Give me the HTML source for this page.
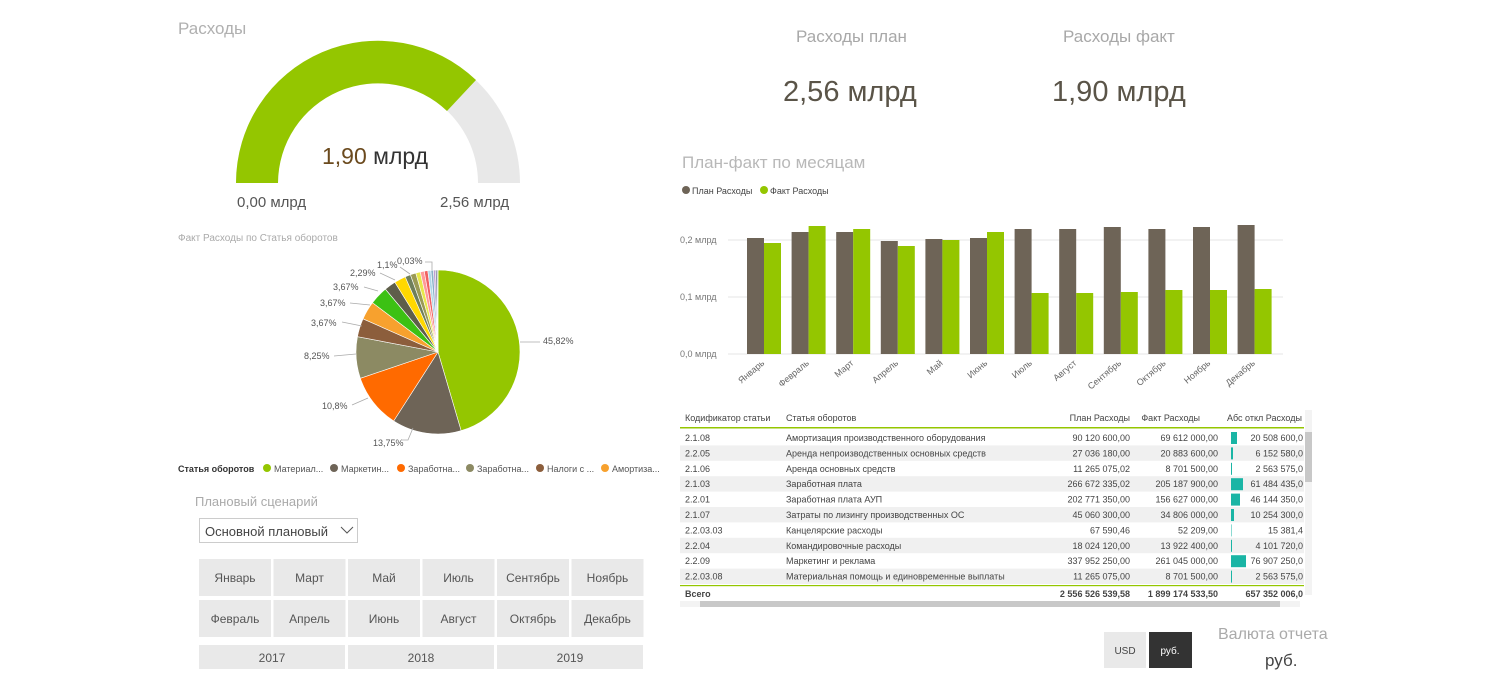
<!DOCTYPE html><html><head><meta charset="utf-8"><style>
body{margin:0;width:1501px;height:679px;background:#fff;overflow:hidden;font-family:"Liberation Sans","DejaVu Sans",sans-serif}
svg{position:absolute;left:0;top:0}
text{font-family:"Liberation Sans","DejaVu Sans",sans-serif}
</style></head><body>
<svg width="1501" height="679" viewBox="0 0 1501 679">
<!-- Titles -->
<text x="178" y="34" font-size="17" fill="#b0b0b0">Расходы</text>
<text x="796" y="42" font-size="17" fill="#a8a8a8">Расходы план</text>
<text x="1063" y="42" font-size="17" fill="#a8a8a8">Расходы факт</text>
<text x="783" y="101" font-size="29" fill="#5a5448">2,56 млрд</text>
<text x="1052" y="101" font-size="29" fill="#5a5448">1,90 млрд</text>
<!-- Gauge -->
<path d="M236,183 A142,142 0 0 1 520,183 L478,183 A100,100 0 0 0 278,183 Z" fill="#e8e8e8"/>
<path d="M236,183 A142,142 0 0 1 476,80 L447,111 A100,100 0 0 0 278,183 Z" fill="#94c600"/>
<text x="322" y="164" font-size="23" fill="#333"><tspan fill="#6b4a1e">1,90</tspan> млрд</text>
<text x="237" y="207" font-size="15" fill="#555">0,00 млрд</text>
<text x="440" y="207" font-size="15" fill="#555">2,56 млрд</text>
<!-- Pie -->
<text x="178" y="241" font-size="10" fill="#aaa">Факт Расходы по Статья оборотов</text>
<g id="pie"></g>
<g font-size="9" fill="#555">
<text x="543" y="344">45,82%</text>
<text x="373" y="446">13,75%</text>
<text x="322" y="409">10,8%</text>
<text x="304" y="359">8,25%</text>
<text x="311" y="326">3,67%</text>
<text x="320" y="306">3,67%</text>
<text x="333" y="290">3,67%</text>
<text x="350" y="276">2,29%</text>
<text x="377" y="268">1,1%</text>
<text x="397" y="264">0,03%</text>
</g>
<g stroke="#aaa" fill="none" stroke-width="0.8">
<polyline points="520,342 540,342"/><polyline points="413,428 408,440 402,440"/>
<polyline points="368,398 352,405"/><polyline points="356,354 334,356"/>
<polyline points="362,326 342,322"/><polyline points="370,305 350,303"/>
<polyline points="378,291 364,287"/><polyline points="395,280 380,273"/>
<polyline points="410,274 400,267"/><polyline points="432,270 432,262 425,262"/>
</g>
<g font-size="9" fill="#555">
<text x="178" y="472" font-weight="bold" fill="#333">Статья оборотов</text>
<circle cx="267" cy="468" r="4" fill="#94c600"/><text x="274" y="472">Материал...</text>
<circle cx="334" cy="468" r="4" fill="#6e6457"/><text x="341" y="472">Маркетин...</text>
<circle cx="401" cy="468" r="4" fill="#ff6a00"/><text x="408" y="472">Заработна...</text>
<circle cx="470" cy="468" r="4" fill="#8c8a63"/><text x="477" y="472">Заработна...</text>
<circle cx="540" cy="468" r="4" fill="#8c5e3c"/><text x="547" y="472">Налоги с ...</text>
<circle cx="605" cy="468" r="4" fill="#f7a12e"/><text x="612" y="472">Амортиза...</text>
</g>
<!-- Scenario -->
<text x="195" y="506" font-size="13" fill="#aaa">Плановый сценарий</text>
<rect x="199.5" y="518.5" width="158" height="24" fill="#fff" stroke="#ccc"/>
<text x="205" y="536" font-size="13" fill="#444">Основной плановый</text>
<polyline points="341,527 347,533 353,527" fill="none" stroke="#555"/>
<g id="slicer" font-size="12" fill="#555" text-anchor="middle"></g>
<!-- Bar chart -->
<text x="682" y="168" font-size="17" fill="#b8b8b8">План-факт по месяцам</text>
<circle cx="686" cy="190" r="4" fill="#6e6457"/><text x="692" y="194" font-size="9" fill="#444">План Расходы</text>
<circle cx="764" cy="190" r="4" fill="#94c600"/><text x="770" y="194" font-size="9" fill="#444">Факт Расходы</text>
<g stroke="#e6e6e6"><line x1="728" y1="240" x2="1283" y2="240"/><line x1="728" y1="297" x2="1283" y2="297"/><line x1="728" y1="354" x2="1283" y2="354"/></g>
<g font-size="9" fill="#777"><text x="680" y="243">0,2 млрд</text><text x="680" y="300">0,1 млрд</text><text x="680" y="357">0,0 млрд</text></g>
<g id="bars"></g>
<!-- Table -->
<g id="tbl" font-size="9" fill="#444"></g>
<!-- Currency -->
<rect x="1104" y="632" width="42" height="36" fill="#e9e9e9"/><text x="1125" y="654" font-size="10" fill="#444" text-anchor="middle">USD</text>
<rect x="1149" y="632" width="43" height="36" fill="#333"/><text x="1170" y="654" font-size="10" fill="#fff" text-anchor="middle">руб.</text>
<text x="1218" y="639" font-size="16" fill="#aaa">Валюта отчета</text>
<text x="1265" y="666" font-size="17" fill="#444">руб.</text>
</svg>
<script>
const NS="http://www.w3.org/2000/svg";
function el(p,t,a,txt){const e=document.createElementNS(NS,t);for(const k in a)e.setAttribute(k,a[k]);if(txt!==undefined)e.textContent=txt;p.appendChild(e);return e;}
// pie
const pie=document.getElementById('pie');
const sl=[[45.82,'#94c600'],[13.75,'#6e6457'],[10.8,'#ff6a00'],[8.25,'#8c8a63'],[3.67,'#8c5e3c'],[3.67,'#f7a12e'],[3.67,'#3cc113'],[2.29,'#5e5e4a'],[2.29,'#ffd800'],[1.1,'#6f7f5a'],[1.1,'#9a9a55'],[0.9,'#e8e84a'],[0.8,'#ff9a9a'],[0.7,'#f06060'],[0.6,'#b0d8e8'],[0.5,'#8ab0c8'],[0.4,'#c0a0d0'],[0.3,'#506080'],[0.2,'#999']];
let tot=sl.reduce((a,b)=>a+b[0],0),ang=-Math.PI/2;const cx=438,cy=352,r=82;
sl.forEach(([v,c])=>{const a2=ang+v/tot*2*Math.PI;const x1=cx+r*Math.cos(ang),y1=cy+r*Math.sin(ang),x2=cx+r*Math.cos(a2),y2=cy+r*Math.sin(a2);
el(pie,'path',{d:`M${cx},${cy} L${x1},${y1} A${r},${r} 0 ${a2-ang>Math.PI?1:0} 1 ${x2},${y2} Z`,fill:c,stroke:'#fff','stroke-width':0.6});ang=a2;});
// slicer
const s=document.getElementById('slicer');
const m1=['Январь','Март','Май','Июль','Сентябрь','Ноябрь'],m2=['Февраль','Апрель','Июнь','Август','Октябрь','Декабрь'];
for(let i=0;i<6;i++){const x=199+i*74.5;
el(s,'rect',{x:x,y:559,width:72,height:37,fill:'#e9e9e9'});el(s,'text',{x:x+36,y:582},m1[i]);
el(s,'rect',{x:x,y:600,width:72,height:37,fill:'#e9e9e9'});el(s,'text',{x:x+36,y:623},m2[i]);}
['2017','2018','2019'].forEach((y,i)=>{const x=199+i*149;el(s,'rect',{x:x,y:645,width:146,height:24,fill:'#e9e9e9'});el(s,'text',{x:x+73,y:662},y);});
// bars
const b=document.getElementById('bars');
const pt=[238,232,232,241,239,238,229,229,227,229,227,225],ft=[243,226,229,246,240,232,293,293,292,290,290,289];
const mn=['Январь','Февраль','Март','Апрель','Май','Июнь','Июль','Август','Сентябрь','Октябрь','Ноябрь','Декабрь'];
for(let i=0;i<12;i++){const x=747+i*44.6;
el(b,'rect',{x:x,y:pt[i],width:17,height:354-pt[i],fill:'#6e6457'});
el(b,'rect',{x:x+17,y:ft[i],width:17,height:354-ft[i],fill:'#94c600'});
el(b,'text',{x:x+18,y:364,'font-size':9,fill:'#666','text-anchor':'end',transform:`rotate(-40 ${x+18} 364)`},mn[i]);}
// table
const t=document.getElementById('tbl');
el(t,'text',{x:685,y:421},'Кодификатор статьи');el(t,'text',{x:786,y:421},'Статья оборотов');
el(t,'text',{x:1130,y:421,'text-anchor':'end'},'План Расходы');el(t,'text',{x:1200,y:421,'text-anchor':'end'},'Факт Расходы');
el(t,'text',{x:1227,y:421},'Абс откл Расходы');
el(t,'rect',{x:680,y:427,width:624,height:1.5,fill:'#94c600'});
const rows=[['2.1.08','Амортизация производственного оборудования','90 120 600,00','69 612 000,00','20 508 600,0',6],
['2.2.05','Аренда непроизводственных основных средств','27 036 180,00','20 883 600,00','6 152 580,0',2],
['2.1.06','Аренда основных средств','11 265 075,02','8 701 500,00','2 563 575,0',1],
['2.1.03','Заработная плата','266 672 335,02','205 187 900,00','61 484 435,0',12],
['2.2.01','Заработная плата АУП','202 771 350,00','156 627 000,00','46 144 350,0',9],
['2.1.07','Затраты по лизингу производственных ОС','45 060 300,00','34 806 000,00','10 254 300,0',3],
['2.2.03.03','Канцелярские расходы','67 590,46','52 209,00','15 381,4',0.5],
['2.2.04','Командировочные расходы','18 024 120,00','13 922 400,00','4 101 720,0',1],
['2.2.09','Маркетинг и реклама','337 952 250,00','261 045 000,00','76 907 250,0',15],
['2.2.03.08','Материальная помощь и единовременные выплаты','11 265 075,00','8 701 500,00','2 563 575,0',1]];
rows.forEach((r,i)=>{const y=430+i*15.4;if(i%2==1)el(t,'rect',{x:680,y:y,width:624,height:15.4,fill:'#f0f0f0'});
const ty=y+11;el(t,'text',{x:685,y:ty},r[0]);el(t,'text',{x:786,y:ty},r[1]);
el(t,'text',{x:1130,y:ty,'text-anchor':'end'},r[2]);el(t,'text',{x:1218,y:ty,'text-anchor':'end'},r[3]);
el(t,'rect',{x:1231,y:y+2,width:r[5],height:12,fill:'#1ab5a5'});el(t,'text',{x:1303,y:ty,'text-anchor':'end'},r[4]);});
el(t,'rect',{x:680,y:585,width:624,height:1.2,fill:'#94c600'});
el(t,'text',{x:685,y:597,'font-weight':'bold'},'Всего');
el(t,'text',{x:1130,y:597,'text-anchor':'end','font-weight':'bold'},'2 556 526 539,58');
el(t,'text',{x:1218,y:597,'text-anchor':'end','font-weight':'bold'},'1 899 174 533,50');
el(t,'text',{x:1303,y:597,'text-anchor':'end','font-weight':'bold'},'657 352 006,0');
el(t,'rect',{x:1305,y:410,width:7,height:185,fill:'#f3f3f3'});el(t,'rect',{x:1305,y:432,width:7,height:50,fill:'#c8c8c8'});
el(t,'rect',{x:680,y:601,width:620,height:6,fill:'#f3f3f3'});el(t,'rect',{x:700,y:601,width:580,height:6,fill:'#c8c8c8'});
</script>
</body></html>
